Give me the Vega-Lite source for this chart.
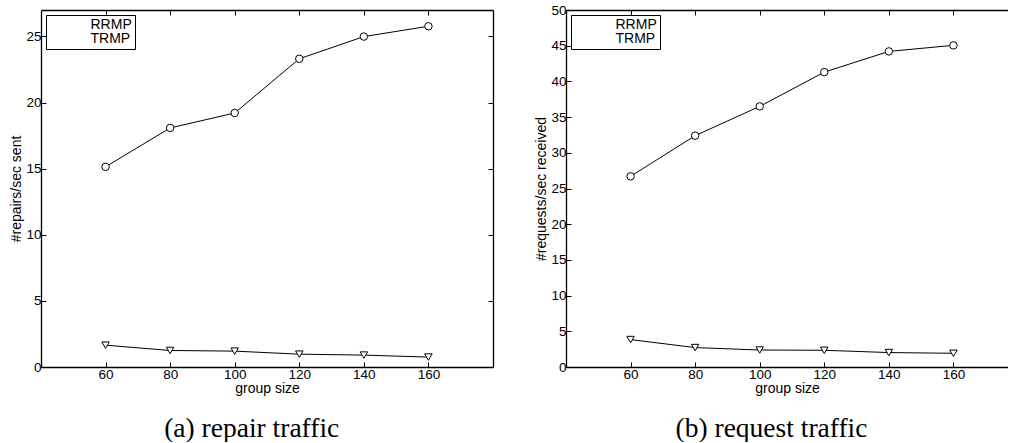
{
  "$schema": "https://vega.github.io/schema/vega-lite/v6.json",
  "padding": {"left": 9, "top": 3, "right": 0, "bottom": 0},
  "background": "white",
  "spacing": 40,
  "config": {
    "view": {"stroke": null},
    "font": "Liberation Sans",
    "axis": {
      "domainColor": "black",
      "domainWidth": 1.3,
      "tickColor": "black",
      "tickWidth": 1,
      "tickSize": -5,
      "labelColor": "black",
      "labelFont": "Liberation Sans",
      "labelFontSize": 13.5,
      "labelOverlap": false,
      "titleColor": "black",
      "titleFont": "Liberation Sans",
      "titleFontSize": 14,
      "titleFontWeight": "normal",
      "grid": false
    },
    "title": {"font": "Liberation Serif", "fontSize": 27.5, "fontWeight": "normal", "color": "black", "orient": "bottom", "anchor": "middle", "frame": "bounds", "offset": 19},
    "legend": {
      "orient": "top-left",
      "offset": 5,
      "strokeColor": "black",
      "fillColor": "white",
      "padding": 3,
      "rowPadding": 0,
      "labelFont": "Liberation Sans",
      "labelFontSize": 14,
      "labelColor": "black",
      "labelOffset": 21.5,
      "labelExpr": "datum.label + ' '",
      "symbolOffset": 6,
      "symbolSize": 56,
      "symbolStrokeWidth": 1,
      "symbolStrokeColor": "black",
      "symbolFillColor": "white",
      "symbolOpacity": 1,
      "title": null
    }
  },
  "data": {
    "values": [
      {"panel": "a", "size": 60, "series": "RRMP", "value": 1.65},
      {"panel": "a", "size": 80, "series": "RRMP", "value": 1.25},
      {"panel": "a", "size": 100, "series": "RRMP", "value": 1.2},
      {"panel": "a", "size": 120, "series": "RRMP", "value": 0.97},
      {"panel": "a", "size": 140, "series": "RRMP", "value": 0.9},
      {"panel": "a", "size": 160, "series": "RRMP", "value": 0.75},
      {"panel": "a", "size": 60, "series": "TRMP", "value": 15.14},
      {"panel": "a", "size": 80, "series": "TRMP", "value": 18.08},
      {"panel": "a", "size": 100, "series": "TRMP", "value": 19.21},
      {"panel": "a", "size": 120, "series": "TRMP", "value": 23.31},
      {"panel": "a", "size": 140, "series": "TRMP", "value": 24.99},
      {"panel": "a", "size": 160, "series": "TRMP", "value": 25.77},
      {"panel": "b", "size": 60, "series": "RRMP", "value": 3.84},
      {"panel": "b", "size": 80, "series": "RRMP", "value": 2.72},
      {"panel": "b", "size": 100, "series": "RRMP", "value": 2.38},
      {"panel": "b", "size": 120, "series": "RRMP", "value": 2.34},
      {"panel": "b", "size": 140, "series": "RRMP", "value": 2.02},
      {"panel": "b", "size": 160, "series": "RRMP", "value": 1.92},
      {"panel": "b", "size": 60, "series": "TRMP", "value": 26.7},
      {"panel": "b", "size": 80, "series": "TRMP", "value": 32.4},
      {"panel": "b", "size": 100, "series": "TRMP", "value": 36.5},
      {"panel": "b", "size": 120, "series": "TRMP", "value": 41.3},
      {"panel": "b", "size": 140, "series": "TRMP", "value": 44.2},
      {"panel": "b", "size": 160, "series": "TRMP", "value": 45.05}
    ]
  },
  "hconcat": [
    {
      "title": "(a) repair traffic",
      "width": 452,
      "height": 357,
      "transform": [{"filter": "datum.panel === 'a'"}],
      "layer": [
        {
          "mark": {"type": "line", "color": "black", "strokeWidth": 1},
          "encoding": {
            "x": {"field": "size", "type": "quantitative", "scale": {"domain": [40, 180], "nice": false, "zero": false},
                  "axis": {"orient": "bottom", "values": [60, 80, 100, 120, 140, 160], "title": "group size", "labelPadding": 5, "titlePadding": 1}},
            "y": {"field": "value", "type": "quantitative", "scale": {"domain": [0, 27], "nice": false},
                  "axis": {"orient": "left", "values": [0, 5, 10, 15, 20, 25], "title": "#repairs/sec sent", "labelPadding": 5, "titlePadding": 2}},
            "detail": {"field": "series"}
          }
        },
        {
          "mark": {"type": "point", "filled": true, "fill": "white", "stroke": "black", "strokeWidth": 1, "opacity": 1, "size": 56},
          "encoding": {
            "x": {"field": "size", "type": "quantitative",
                  "axis": {"orient": "top", "values": [60, 80, 100, 120, 140, 160], "labels": false, "title": null}},
            "y": {"field": "value", "type": "quantitative",
                  "axis": {"orient": "right", "values": [0, 5, 10, 15, 20, 25], "labels": false, "title": null}},
            "shape": {"field": "series", "type": "nominal",
                      "scale": {"domain": ["RRMP", "TRMP"], "range": ["triangle-down", "circle"]},
                      "legend": {"title": null}}
          }
        }
      ]
    },
    {
      "title": "(b) request traffic",
      "width": 442,
      "height": 357,
      "transform": [{"filter": "datum.panel === 'b'"}],
      "layer": [
        {
          "mark": {"type": "line", "color": "black", "strokeWidth": 1},
          "encoding": {
            "x": {"field": "size", "type": "quantitative", "scale": {"domain": [40, 176.9], "nice": false, "zero": false},
                  "axis": {"orient": "bottom", "values": [60, 80, 100, 120, 140, 160], "title": "group size", "labelPadding": 5, "titlePadding": 1}},
            "y": {"field": "value", "type": "quantitative", "scale": {"domain": [0, 50], "nice": false},
                  "axis": {"orient": "left", "values": [0, 5, 10, 15, 20, 25, 30, 35, 40, 45, 50], "title": "#requests/sec received", "labelPadding": 5, "titlePadding": 2}},
            "detail": {"field": "series"}
          }
        },
        {
          "mark": {"type": "point", "filled": true, "fill": "white", "stroke": "black", "strokeWidth": 1, "opacity": 1, "size": 56},
          "encoding": {
            "x": {"field": "size", "type": "quantitative",
                  "axis": {"orient": "top", "values": [60, 80, 100, 120, 140, 160], "labels": false, "title": null}},
            "y": {"field": "value", "type": "quantitative",
                  "axis": {"orient": "left", "values": [0, 5, 10, 15, 20, 25, 30, 35, 40, 45, 50], "title": "#requests/sec received", "labelPadding": 5, "titlePadding": 2}},
            "shape": {"field": "series", "type": "nominal",
                      "scale": {"domain": ["RRMP", "TRMP"], "range": ["triangle-down", "circle"]},
                      "legend": {"title": null}}
          }
        }
      ]
    }
  ],
  "resolve": {"scale": {"shape": "independent"}, "legend": {"shape": "independent"}}
}
